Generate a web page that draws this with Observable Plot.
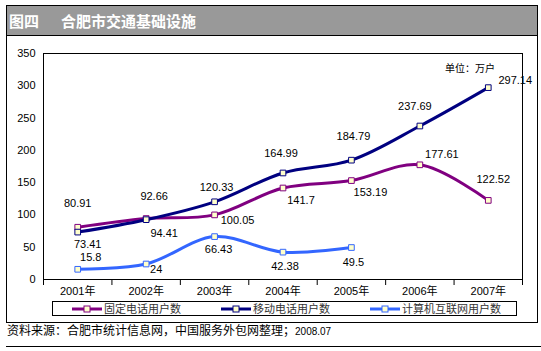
<!DOCTYPE html>
<html><head><meta charset="utf-8">
<script src="https://cdn.jsdelivr.net/npm/d3@7"></script>
<script src="https://cdn.jsdelivr.net/npm/@observablehq/plot@0.6"></script>
<style>
body{margin:0;background:#fff;}
#wrap{position:relative;width:541px;height:351px;overflow:hidden;font-family:"Liberation Sans",Arial,"Noto Sans CJK SC",sans-serif;}
#chart{position:absolute;left:0;top:0;}
#box{position:absolute;left:6px;top:5px;width:530px;height:316px;border:1px solid #000;}
#titlebar{position:absolute;left:6px;top:5px;width:532px;height:31px;background:#999;border:1px solid #000;box-sizing:border-box;color:#fff;font-family:"Noto Sans CJK SC",sans-serif;font-weight:bold;font-size:15px;line-height:29px;}
#titlebar span{position:absolute;top:0;}
#unit{position:absolute;left:445px;top:60px;font-family:"Noto Sans CJK SC",sans-serif;font-size:10px;color:#000;}
#legend{position:absolute;left:52px;top:301px;width:465px;height:15px;border:1px solid #000;box-sizing:border-box;display:flex;align-items:center;padding-left:19px;gap:40px;font-family:"Noto Sans CJK SC",sans-serif;font-size:11px;color:#333;}
.item{display:flex;align-items:center;gap:2px;white-space:nowrap;line-height:13px;}
#footer{position:absolute;left:7px;top:321px;font-family:"Noto Sans CJK SC",sans-serif;font-size:12px;color:#000;}
#footer small{font-family:"Liberation Sans",Arial,sans-serif;font-size:10px;}
#rule{position:absolute;left:6px;top:346px;width:535px;height:0;border-top:1px solid #000;}
</style></head><body>
<div id="wrap">
  <div id="chart"></div>
  <div id="box"></div>
  <div id="titlebar"><span style="left:2px">图四</span><span style="left:54px">合肥市交通基础设施</span></div>
  <div id="unit">单位：万户</div>
  <div id="legend"></div>
  <div id="footer">资料来源：合肥市统计信息网，中国服务外包网整理；<small>2008.07</small></div>
  <div id="rule"></div>
</div>
<script>
const years = ["2001年","2002年","2003年","2004年","2005年","2006年","2007年"];
const seriesNames = ["固定电话用户数","移动电话用户数","计算机互联网用户数"];
const fixedPhone = [80.91, 94.41, 100.05, 141.7, 153.19, 177.61, 122.52];
const mobilePhone = [73.41, 92.66, 120.33, 164.99, 184.79, 237.69, 297.14];
const internetUsers = [15.8, 24, 66.43, 42.38, 49.5];
const yTicks = [0, 50, 100, 150, 200, 250, 300, 350];
const colors = ["#800080", "#000080", "#3366ff"];
const markerFill = "#ffffcc";
// label placement offsets [dx, dy] in pixels
const labelOffsets = [
  [[0,-24],[18,15],[23,6],[18,12],[19,12],[22,-10],[5,-21]],
  [[10,12],[8,-23],[2,-14],[-2,-19],[2,-24],[-5,-20],[27,-7]],
  [[13,-12],[10,5],[4,13],[2,14],[2,15]]
];

const seriesValues = [fixedPhone, mobilePhone, internetUsers];
const rows = seriesValues.flatMap((vals, si) => vals.map((v, i) => ({series: seriesNames[si], si, i, v})));
const boundaries = d3.range(years.length + 1).map(k => k - 0.5);

const marks = [
  Plot.frame({stroke: "#000", strokeWidth: 1}),
  Plot.axisY({ticks: yTicks, tickSize: 0, tickPadding: 8, tickFormat: d => d, fill: "#000"}),
  Plot.axisX({ticks: boundaries, tickSize: 6, tickFormat: () => "", stroke: "#000"}),
  Plot.axisX({ticks: d3.range(years.length), tickSize: 0, tickPadding: 8, tickFormat: i => years[i], fill: "#000", fontFamily: "'Liberation Sans', Arial, 'Noto Sans CJK SC', sans-serif"})
];
seriesNames.forEach((name, si) => {
  const data = rows.filter(d => d.si === si);
  marks.push(Plot.line(data, {x: "i", y: "v", stroke: colors[si], strokeWidth: 3, curve: "catmull-rom"}));
  marks.push(Plot.dot(data, {x: "i", y: "v", symbol: "square", r: 3.2, fill: markerFill, stroke: colors[si], strokeWidth: 1}));
});
rows.forEach(d => {
  const [dx, dy] = labelOffsets[d.si][d.i];
  marks.push(Plot.text([d], {x: "i", y: "v", text: r => String(r.v), dx, dy, fill: "#000", fontSize: 11}));
});

const chart = Plot.plot({
  width: 541,
  height: 300,
  marginTop: 53,
  marginLeft: 43,
  marginRight: 19,
  marginBottom: 21,
  style: {background: "transparent", fontSize: "11px", fontFamily: "'Liberation Sans', Arial, sans-serif", color: "#000"},
  x: {domain: [-0.5, years.length - 0.5], label: null},
  y: {domain: [0, 350], label: null},
  marks
});
document.getElementById("chart").appendChild(chart);

const legend = document.getElementById("legend");
seriesNames.forEach((name, si) => {
  const item = document.createElement("div");
  item.className = "item";
  item.innerHTML = `<svg width="30" height="8"><line x1="0" x2="30" y1="4" y2="4" stroke="${colors[si]}" stroke-width="3"/><rect x="12" y="1" width="6" height="6" fill="${markerFill}" stroke="${colors[si]}" stroke-width="1"/></svg><span>${name}</span>`;
  legend.appendChild(item);
});
</script>
</body></html>
